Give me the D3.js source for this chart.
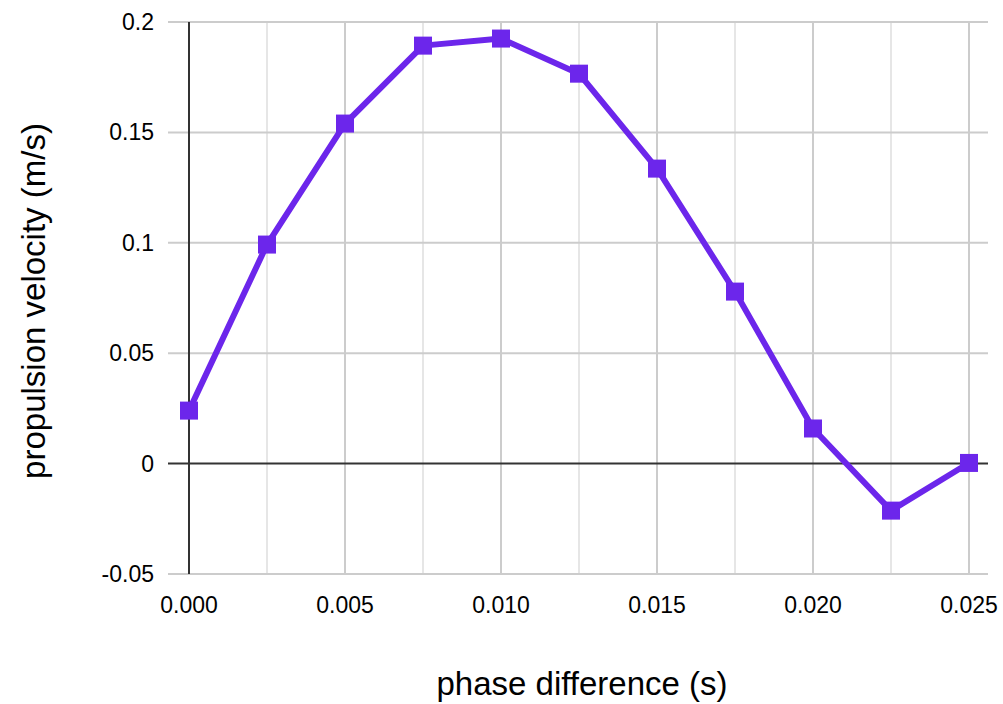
<!DOCTYPE html>
<html><head><meta charset="utf-8">
<script src="https://cdn.jsdelivr.net/npm/d3@7"></script>
<style>body{margin:0;background:#fff}svg{display:block}text{font-family:"Liberation Sans",Arial,sans-serif;fill:#000}</style>
</head><body>
<svg id="c" width="1003" height="704"></svg>
<script>
const phase = [0, 0.0025, 0.005, 0.0075, 0.01, 0.0125, 0.015, 0.0175, 0.02, 0.0225, 0.025];
const velocity = [0.024, 0.0992, 0.154, 0.1893, 0.1925, 0.1766, 0.1336, 0.0779, 0.0159, -0.0213, 0.0003];
const xTicks = [0, 0.005, 0.01, 0.015, 0.02, 0.025];
const xMinorTicks = [0.0025, 0.0075, 0.0125, 0.0175, 0.0225];
const yTicks = [-0.05, 0, 0.05, 0.1, 0.15, 0.2];
const yTickLabels = ["-0.05", "0", "0.05", "0.1", "0.15", "0.2"];

const svg = d3.select("#c");
const x = d3.scaleLinear().domain([0, 0.025]).range([189, 969]);
const y = d3.scaleLinear().domain([-0.05, 0.2]).range([574, 22]);
const gx0 = 168, gx1 = 988;

svg.append("g").selectAll("line").data(xMinorTicks).join("line")
  .attr("x1", d => x(d)).attr("x2", d => x(d)).attr("y1", y(0.2)).attr("y2", y(-0.05))
  .attr("stroke", "#e6e6e6").attr("stroke-width", 2);
svg.append("g").selectAll("line").data(xTicks.filter(d => d !== 0)).join("line")
  .attr("x1", d => x(d)).attr("x2", d => x(d)).attr("y1", y(0.2)).attr("y2", y(-0.05))
  .attr("stroke", "#cccccc").attr("stroke-width", 2);
svg.append("g").selectAll("line").data(yTicks.filter(d => d !== 0)).join("line")
  .attr("x1", gx0).attr("x2", gx1).attr("y1", d => y(d)).attr("y2", d => y(d))
  .attr("stroke", "#cccccc").attr("stroke-width", 2);
svg.append("line").attr("x1", gx0).attr("x2", gx1).attr("y1", y(0)).attr("y2", y(0))
  .attr("stroke", "#333").attr("stroke-width", 2);
svg.append("line").attr("x1", x(0)).attr("x2", x(0)).attr("y1", y(0.2)).attr("y2", y(-0.05))
  .attr("stroke", "#333").attr("stroke-width", 2);

svg.append("g").selectAll("text").data(yTicks).join("text")
  .attr("x", 154).attr("y", d => y(d)).attr("dy", "0.35em")
  .attr("text-anchor", "end").attr("font-size", 23)
  .text((d, i) => yTickLabels[i]);
svg.append("g").selectAll("text").data(xTicks).join("text")
  .attr("x", d => x(d)).attr("y", 605).attr("dy", "0.35em")
  .attr("text-anchor", "middle").attr("font-size", 23)
  .text(d => d3.format(".3f")(d));

svg.append("text").attr("x", 582).attr("y", 695)
  .attr("text-anchor", "middle").attr("font-size", 33).text("phase difference (s)");
svg.append("text").attr("transform", "translate(33,301) rotate(-90)").attr("dy", "0.35em")
  .attr("text-anchor", "middle").attr("font-size", 33).text("propulsion velocity (m/s)");

const col = "#6c26eb";
const pts = phase.map((p, i) => [p, velocity[i]]);
svg.append("path").datum(pts)
  .attr("d", d3.line().x(d => x(d[0])).y(d => y(d[1])))
  .attr("fill", "none").attr("stroke", col).attr("stroke-width", 6).attr("stroke-linejoin", "round");
svg.append("g").selectAll("rect").data(pts).join("rect")
  .attr("x", d => x(d[0]) - 9).attr("y", d => y(d[1]) - 9)
  .attr("width", 18).attr("height", 18).attr("fill", col);
</script>
</body></html>
